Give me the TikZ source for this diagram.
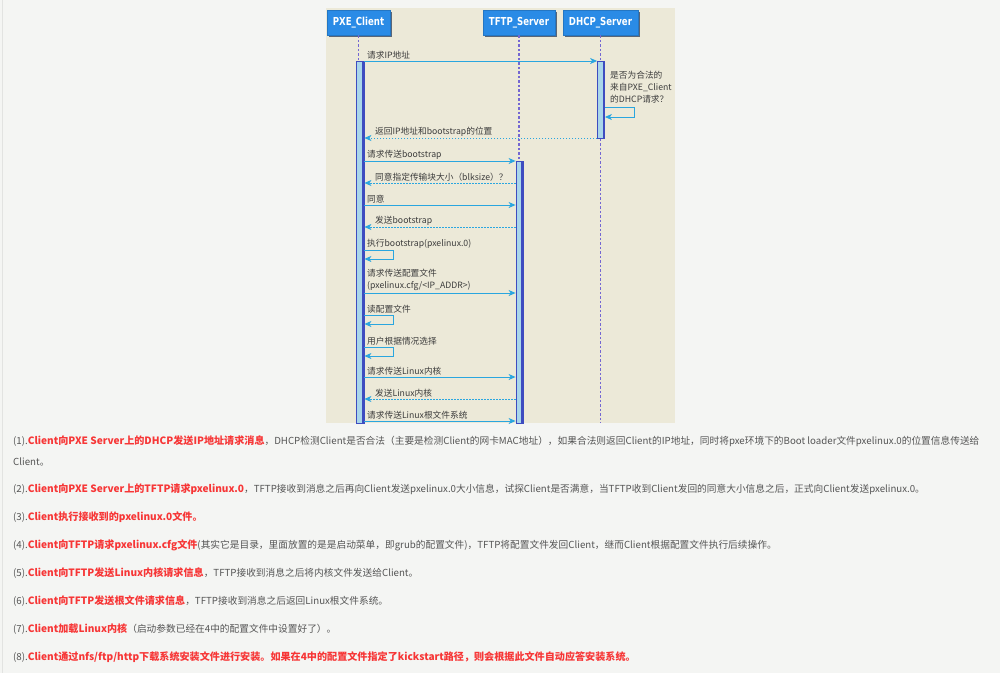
\documentclass[tikz,border=0pt]{standalone}
\usepackage{fontspec}
\setmainfont{Noto Sans CJK SC}
\newfontface\hdrfont[FakeStretch=0.78]{DejaVu Sans Bold}
\usetikzlibrary{arrows.meta,shadows}
\definecolor{pagebg}{HTML}{F4F5F3}
\definecolor{edgec}{HTML}{E2E3E1}
\definecolor{panelbg}{HTML}{ECE9D8}
\definecolor{hdrblue}{HTML}{2A8BE6}
\definecolor{hdrshadow}{HTML}{5B6676}
\definecolor{lifec}{HTML}{7467D2}
\definecolor{actfill}{HTML}{A9D6EA}
\definecolor{actborder}{HTML}{3E4CC0}
\definecolor{arrowc}{HTML}{2AA6DF}
\definecolor{dtext}{HTML}{3C3C3C}
\definecolor{bodygray}{HTML}{555555}
\definecolor{bodyred}{HTML}{F73636}
\newcommand\redb[1]{{\fontsize{10.1}{12}\selectfont\textcolor{bodyred}{\bfseries #1}}}
\begin{document}
\begin{tikzpicture}[x=1pt,y=-1pt,
  hdr/.style={rectangle, fill=hdrblue, draw=hdrblue!85!black, line width=0.6pt,
    minimum height=25pt, inner sep=0pt, text=white,
    font=\hdrfont\fontsize{11}{12}\selectfont,
    drop shadow={shadow xshift=2pt, shadow yshift=-2pt, fill=hdrshadow, opacity=1}},
  lifeline/.style={draw=lifec, line width=1.1pt, dash pattern=on 2.5pt off 2pt},
  actbar/.style={rectangle, fill=actfill, draw=actborder, line width=0.8pt,
    minimum width=7pt, inner sep=0pt,
    path picture={\draw[actborder, line width=2pt]
      ([xshift=-1pt]path picture bounding box.north east) --
      ([xshift=-1pt]path picture bounding box.south east);}},
  msg/.style={draw=arrowc, line width=0.9pt, -{Stealth[length=7pt,width=6pt,inset=2pt]}},
  ret/.style={msg, line width=0.7pt, dash pattern=on 1.5pt off 1.5pt},
  lbl/.style={anchor=west, inner sep=0pt, text=dtext, font=\fontsize{8.7}{12}\selectfont},
  body/.style={anchor=west, inner sep=0pt, text=bodygray, font=\fontsize{9.7}{12}\selectfont}
]
\useasboundingbox (0,0) rectangle (1000,673);
\fill[pagebg] (0,0) rectangle (1000,673);
\draw[edgec, line width=0.8pt] (2.5,0) -- (2.5,673);
\fill[panelbg] (326,8) rectangle (675,423);

% headers
\node[hdr, minimum width=63pt] (client) at (358.5,22.5) {PXE\_Client};
\node[hdr, minimum width=72pt] (tftp) at (519,22.5) {TFTP\_Server};
\node[hdr, minimum width=75pt] (dhcp) at (600.5,22.5) {DHCP\_Server};

% lifelines
\coordinate (bot) at (0,423);
\draw[lifeline] (client.south) -- (client.south |- bot);
\draw[lifeline] (tftp.south) -- (tftp.south |- bot);
\draw[lifeline] (dhcp.south) -- (dhcp.south |- bot);

% activation bars
\node[actbar, anchor=north, minimum width=8pt, minimum height=362pt] (cbar) at (360,61) {};
\node[actbar, anchor=north, minimum height=77pt] (dbar) at (601,61) {};
\node[actbar, anchor=north, minimum height=262pt] (tbar) at (519.5,161) {};

% y levels
\coordinate (y1) at (0,61);
\coordinate (y2) at (0,138);
\coordinate (y3) at (0,161);
\coordinate (y4) at (0,183);
\coordinate (y5) at (0,205);
\coordinate (y6) at (0,227);
\coordinate (y7) at (0,293);
\coordinate (y8) at (0,377);
\coordinate (y9) at (0,399);
\coordinate (y10) at (0,421);

% 1 request IP
\node[lbl] (l1) at (367,55) {请求IP地址};
\draw[msg] (cbar.east |- y1) -- (dbar.west |- y1);

% DHCP self check
\node[lbl, anchor=north west, align=left] (ld) at (610,71) {是否为合法的\\来自PXE\_Client\\的DHCP请求？};
\coordinate (da) at (634,107);
\coordinate (db) at (634,117);
\draw[msg] (dbar.east |- da) -- (da) -- (db) -- (dbar.east |- db);

% return IP
\node[lbl] (l2) at (375,132) {返回IP地址和bootstrap的位置};
\draw[ret] (dbar.west |- y2) -- (cbar.east |- y2);

% bootstrap exchange
\node[lbl] (l3) at (367,155) {请求传送bootstrap};
\draw[msg] (cbar.east |- y3) -- (tbar.west |- y3);
\node[lbl] (l4) at (375,177) {同意指定传输块大小（blksize）？};
\draw[ret] (tbar.west |- y4) -- (cbar.east |- y4);
\node[lbl] (l5) at (367,199) {同意};
\draw[msg] (cbar.east |- y5) -- (tbar.west |- y5);
\node[lbl] (l6) at (375,221) {发送bootstrap};
\draw[ret] (tbar.west |- y6) -- (cbar.east |- y6);

% execute bootstrap
\node[lbl] (l7) at (367,244) {执行bootstrap(pxelinux.0)};
\coordinate (s1a) at (393,250);
\coordinate (s1b) at (393,259);
\draw[msg] (cbar.east |- s1a) -- (s1a) -- (s1b) -- (cbar.east |- s1b);

% config file request
\node[lbl, anchor=north west, align=left] (l8) at (367,269) {请求传送配置文件\\(pxelinux.cfg/<IP\_ADDR>)};
\draw[msg] (cbar.east |- y7) -- (tbar.west |- y7);

% read config
\node[lbl] (l9) at (367,309) {读配置文件};
\coordinate (s2a) at (393,315);
\coordinate (s2b) at (393,324);
\draw[msg] (cbar.east |- s2a) -- (s2a) -- (s2b) -- (cbar.east |- s2b);

% user choice
\node[lbl] (l10) at (367,341) {用户根据情况选择};
\coordinate (s3a) at (393,347);
\coordinate (s3b) at (393,356);
\draw[msg] (cbar.east |- s3a) -- (s3a) -- (s3b) -- (cbar.east |- s3b);

% kernel
\node[lbl] (l11) at (367,371) {请求传送Linux内核};
\draw[msg] (cbar.east |- y8) -- (tbar.west |- y8);
\node[lbl] (l12) at (375,393) {发送Linux内核};
\draw[ret] (tbar.west |- y9) -- (cbar.east |- y9);
\node[lbl] (l13) at (367,415) {请求传送Linux根文件系统};
\draw[msg] (cbar.east |- y10) -- (tbar.west |- y10);

% explanatory text
\node[body] (t1) at (13,441) {(1).\redb{Client向PXE Server上的DHCP发送IP地址请求消息}，DHCP检测Client是否合法（主要是检测Client的网卡MAC地址），如果合法则返回Client的IP地址，同时将pxe环境下的Boot loader文件pxelinux.0的位置信息传送给};
\node[body] (t1b) at (13,462) {Client。};
\node[body] (t2) at (13,489) {(2).\redb{Client向PXE Server上的TFTP请求pxelinux.0}，TFTP接收到消息之后再向Client发送pxelinux.0大小信息，试探Client是否满意，当TFTP收到Client发回的同意大小信息之后，正式向Client发送pxelinux.0。};
\node[body] (t3) at (13,517) {(3).\redb{Client执行接收到的pxelinux.0文件。}};
\node[body] (t4) at (13,545) {(4).\redb{Client向TFTP请求pxelinux.cfg文件}(其实它是目录，里面放置的是是启动菜单，即grub的配置文件)，TFTP将配置文件发回Client，继而Client根据配置文件执行后续操作。};
\node[body] (t5) at (13,573) {(5).\redb{Client向TFTP发送Linux内核请求信息}，TFTP接收到消息之后将内核文件发送给Client。};
\node[body] (t6) at (13,601) {(6).\redb{Client向TFTP发送根文件请求信息}，TFTP接收到消息之后返回Linux根文件系统。};
\node[body] (t7) at (13,629) {(7).\redb{Client加载Linux内核}（启动参数已经在4中的配置文件中设置好了）。};
\node[body] (t8) at (13,657) {(8).\redb{Client通过nfs/ftp/http下载系统安装文件进行安装。如果在4中的配置文件指定了kickstart路径，则会根据此文件自动应答安装系统。}};
\end{tikzpicture}
\end{document}
